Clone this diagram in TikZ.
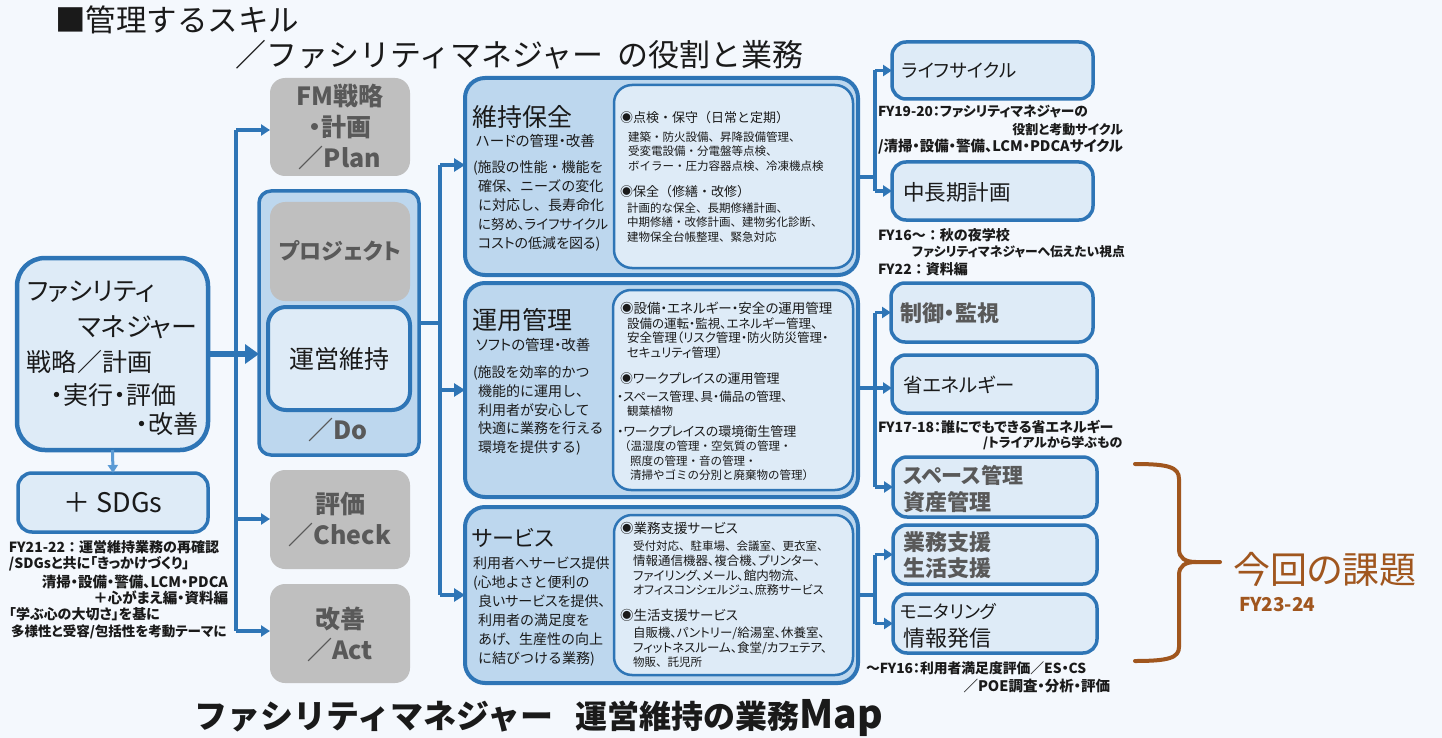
\documentclass[tikz,border=0pt]{standalone}
\usepackage{fontspec}
\setmainfont{Noto Sans CJK JP}[RawFeature={+palt}]
\newfontfamily\fw{Noto Sans CJK JP}
\newfontfamily\pf{Noto Sans CJK JP}[RawFeature={+palt}]
\usetikzlibrary{arrows.meta}
\definecolor{bgc}{HTML}{F4F8FD}
\definecolor{fmblue}{HTML}{2E75B6}
\definecolor{lblue}{HTML}{5B9BD5}
\definecolor{midfill}{HTML}{BDD7EE}
\definecolor{lightfill}{HTML}{DEEBF7}
\definecolor{grayfill}{HTML}{BFBFBF}
\definecolor{graytext}{HTML}{595959}
\definecolor{kadai}{HTML}{A0561E}
\definecolor{ink}{HTML}{1A1A1A}
\newcommand\fsz[2]{\fontsize{#1}{#2}\selectfont}
\newcommand\kl{\fw\fsz{11.5}{14.6}}
\newcommand\kp{\fsz{12.5}{14.6}}
\newcommand\pk{\fw\fsz{14}{18.8}}
\newcommand\pp{\fsz{14}{18.8}}
\tikzset{
  every node/.style={inner sep=0pt, outer sep=0pt, text=ink},
  bluebox/.style={draw=fmblue, fill=lightfill, line width=3.5pt, rounded corners=14pt},
  bigbox/.style={draw=fmblue, fill=midfill, line width=4pt, rounded corners=20pt},
  innerbox/.style={draw=fmblue, fill=lightfill, line width=2.5pt, rounded corners=18pt},
  graybox/.style={fill=grayfill, rounded corners=15pt},
  graylbl/.style={text=graytext, font=\fsz{25}{31}\bfseries, align=center},
  conn/.style={draw=fmblue, line width=4.5pt},
  arrM/.style={conn, -{Triangle[length=11pt,width=13pt]}},
  arrR/.style={draw=fmblue, line width=3.5pt, -{Triangle[length=9pt,width=11pt]}},
  arrBig/.style={draw=fmblue, line width=6.5pt, -{Triangle[length=14pt,width=19pt]}},
  note/.style={font=\fsz{14}{17}\bfseries, anchor=west},
  noteE/.style={font=\fsz{14.5}{17}\bfseries, anchor=east},
  rnote/.style={font=\fsz{13.7}{16}\bfseries, anchor=west},
  rnoteE/.style={font=\fsz{13}{16}\bfseries, anchor=east},
  ttl/.style={font=\fw\fsz{25}{30}, anchor=west},
  sub/.style={font=\fsz{14.5}{18}, anchor=west},
  para/.style={font=\fsz{14}{18.8}, anchor=west, align=left},
  head/.style={font=\fsz{13.5}{16}, anchor=west},
  headfw/.style={font=\fw\fsz{13}{16}, anchor=west},
  item/.style={font=\fsz{12}{14.6}, anchor=west, align=left},
  rlbl/.style={font=\fsz{22}{26}, anchor=west},
  rgray/.style={font=\fsz{22}{26}\bfseries, text=graytext, anchor=west},
  brace/.style={draw=kadai, line width=4pt, line cap=round}
}
\begin{document}
\begin{tikzpicture}[x=1pt, y=-1pt]
\useasboundingbox (0,0) rectangle (1442,738);
\fill[bgc] (0,0) rectangle (1442,738);

% ---------- titles ----------
\node[font=\fw\fsz{30.5}{34}, anchor=west] (t1) at (55,20) {■管理するスキル};
\node[font=\fw\fsz{31}{34}, anchor=west] (t2) at (235,55) {／ファシリティマネジャー\hspace{14pt}の役割と業務};
\node[font=\fw\fsz{33}{38}\bfseries, anchor=west] (t3) at (194,718) {ファシリティマネジャー\hspace{22pt}{\fsz{32}{38}運営維持の業務}{\fsz{39}{40}Map}};

% ---------- left column ----------
\node[bluebox, line width=4.5pt, rounded corners=28pt, minimum width=191pt, minimum height=192pt] (fm) at (112.5,354) {};
\node[font=\fsz{25.5}{30}, anchor=west] (fm1) at (27,292) {ファシリティ};
\node[font=\fsz{26}{30}, anchor=east] (fm2) at (197,327) {マネジャー};
\node[font=\fw\fsz{25}{30}, anchor=west] (fm3) at (27,362) {戦略／計画};
\node[font=\fsz{25}{30}, anchor=east] (fm4) at (176,395) {・実行・評価};
\node[font=\fsz{25}{30}, anchor=east] (fm5) at (198,424) {・改善};

\node[bluebox, line width=3.5pt, rounded corners=14pt, minimum width=190pt, minimum height=59pt] (sdgs) at (113,502.5) {};
\node[font=\fw\fsz{27}{30}] (sdgsl) at (113,503) {＋ SDGs};
\draw[draw=lblue, line width=3pt, -{Triangle[length=8pt,width=10pt]}] (fm.south) -- (sdgs.north);

\node[note, font=\fw\fsz{14}{17}\bfseries] (n1) at (9,547) {FY21-22：運営維持業務の再確認};
\node[note] (n2) at (9,564) {/SDGsと共に「きっかけづくり」};
\node[noteE] (n3) at (228,582) {清掃・設備・警備、LCM・PDCA};
\node[noteE] (n4) at (228,598) {＋心がまえ編・資料編};
\node[note] (n5) at (9,614) {「学ぶ心の大切さ」を基に};
\node[note, font=\fsz{13.5}{17}\bfseries] (n6) at (11,632) {多様性と受容/包括性を考動テーマに};

% ---------- PDCA column ----------
\node[graybox, minimum width=140pt, minimum height=98pt] (plan) at (340,127) {};
\node[graylbl] (planl) at (340,127) {FM戦略\\・計画\\／Plan};
\node[draw=fmblue, fill=midfill, line width=3.5pt, rounded corners=12pt, minimum width=160pt, minimum height=264pt] (doouter) at (339,323) {};
\node[graybox, minimum width=140pt, minimum height=99pt] (proj) at (340,251.5) {};
\node[graylbl, font=\fsz{22}{28}\bfseries] (projl) at (340,251) {プロジェクト};
\node[draw=fmblue, fill=lightfill, line width=4pt, rounded corners=18pt, minimum width=142pt, minimum height=103pt] (unei) at (339,358.5) {};
\node[font=\fsz{25}{30}] (ueil) at (339,359) {運営維持};
\node[graylbl] (dol) at (338,430) {／Do};
\node[graybox, minimum width=140pt, minimum height=99pt] (check) at (340,519.5) {};
\node[graylbl] (checkl) at (340,520) {評価\\／Check};
\node[graybox, minimum width=140pt, minimum height=99pt] (act) at (340,633.5) {};
\node[graylbl] (actl) at (340,634) {改善\\／Act};

\coordinate (lt) at (236,130);
\coordinate (lc) at (236,519);
\coordinate (lb) at (236,631);
\draw[conn, line width=4pt] (lt) -- (lb);
\draw[arrR] (lt) -- (lt -| plan.west);
\draw[arrR] (lc) -- (lc -| check.west);
\draw[arrR] (lb) -- (lb -| act.west);
\draw[arrBig] (fm.east) -- (fm.east -| doouter.west);

% ---------- middle boxes ----------
\node[bigbox, minimum width=393pt, minimum height=197pt] (iji) at (661.5,176.5) {};
\node[innerbox, minimum width=239pt, minimum height=183pt] (ijiin) at (733.5,176.5) {};
\node[bigbox, minimum width=393pt, minimum height=214pt] (unyo) at (661.5,390) {};
\node[innerbox, minimum width=240pt, minimum height=200pt] (unyoin) at (733,390) {};
\node[bigbox, minimum width=393pt, minimum height=176pt] (serv) at (661.5,595) {};
\node[innerbox, minimum width=239pt, minimum height=160pt] (servin) at (733.5,595) {};

\coordinate (mj) at (440,323);
\coordinate (mt) at (440,165);
\coordinate (mm) at (440,390);
\coordinate (mb) at (440,595);
\draw[conn] (doouter.east) -- (mj);
\draw[conn] (mt) -- (mb);
\draw[arrM] (mt) -- (mt -| iji.west);
\draw[arrM] (mm) -- (mm -| unyo.west);
\draw[arrM] (mb) -- (mb -| serv.west);

% 維持保全
\node[ttl] (ijit) at (472,117) {維持保全};
\node[sub] (ijis) at (476,141) {ハードの管理・改善};
\node[para] (ijip) at (473,206) {{\pk (施設の性能・機能を}\\\hspace*{5pt}{\pk 確保、ニーズの変化}\\\hspace*{5pt}{\pk に対応し、長寿命化}\\\hspace*{5pt}{\fsz{13.5}{18.8}に努め、ライフサイクル}\\\hspace*{5pt}{\pp コストの低減を図る)}};
\node[headfw] (ijih1) at (620,118) {◉点検・保守（日常と定期）};
\node[item] (ijii1) at (628,151.5) {{\kl 建築・防火設備、昇降設備管理、}\\{\kl 受変電設備・分電盤等点検、}\\{\kl ボイラー・圧力容器点検、冷凍機点検}};
\node[headfw] (ijih2) at (620,192) {◉保全（修繕・改修）};
\node[item] (ijii2) at (627,222.5) {{\kl 計画的な保全、長期修繕計画、}\\{\kl 中期修繕・改修計画、建物劣化診断、}\\{\kl 建物保全台帳整理、緊急対応}};

% 運用管理
\node[ttl] (unyot) at (472,320) {運用管理};
\node[sub] (unyos) at (476,345) {ソフトの管理・改善};
\node[para] (unyop) at (473,410.5) {{\pk (施設を効率的かつ}\\\hspace*{5pt}{\pk 機能的に運用し、}\\\hspace*{5pt}{\pk 利用者が安心して}\\\hspace*{5pt}{\pk 快適に業務を行える}\\\hspace*{5pt}{\pk 環境を提供する)}};
\node[head] (unyoh1) at (620,308) {◉設備・エネルギー・安全の運用管理};
\node[item] (unyoi1) at (627,338) {{\kp 設備の運転・監視、エネルギー管理、}\\{\kp 安全管理（リスク管理・防火防災管理・}\\{\kp セキュリティ管理）}};
\node[head, font=\fsz{13}{16}] (unyoh2) at (620,379) {◉ワークプレイスの運用管理};
\node[item] (unyoi2) at (617,397) {\kp ・スペース管理、具・備品の管理、};
\node[item] (unyoi3) at (627,411) {\kl 観葉植物};
\node[item] (unyoi4) at (617,432) {\fsz{13}{15}・ワークプレイスの環境衛生管理};
\node[item] (unyoi5) at (619,446) {\kl （温湿度の管理・空気質の管理・};
\node[item] (unyoi6) at (630,461.5) {\kl 照度の管理・音の管理・};
\node[item] (unyoi7) at (630,475.5) {\kl 清掃やゴミの分別と廃棄物の管理）};

% サービス
\node[ttl, font=\fsz{22}{28}] (servt) at (472,538) {サービス};
\node[sub, font=\fsz{14}{18}] (servs) at (473,563) {利用者へサービス提供};
\node[para] (servp) at (473,621) {{\pk (心地よさと便利の}\\\hspace*{5pt}{\pp 良いサービスを提供、}\\\hspace*{5pt}{\pk 利用者の満足度を}\\\hspace*{5pt}{\pk あげ、生産性の向上}\\\hspace*{5pt}{\pk に結びつける業務)}};
\node[head] (servh1) at (620,528) {◉業務支援サービス};
\node[item] (servi1) at (633,568.5) {{\kl 受付対応、駐車場、会議室、更衣室、}\\{\kp 情報通信機器、複合機、プリンター、}\\{\kp ファイリング、メール、館内物流、}\\{\fsz{12}{14.6}オフィスコンシェルジュ、庶務サービス}};
\node[head] (servh2) at (620,615) {◉生活支援サービス};
\node[item] (servi2) at (633,647.5) {{\kp 自販機、パントリー/給湯室、休養室、}\\{\kp フィットネスルーム、食堂/カフェテア、}\\{\kl 物販、託児所}};

% ---------- right column ----------
\node[bluebox, minimum width=201pt, minimum height=57pt] (life) at (992.5,70.5) {};
\node[rlbl, font=\fsz{18.5}{24}] (lifel) at (902,70) {ライフサイクル};
\node[bluebox, minimum width=201pt, minimum height=58pt] (chouki) at (992.5,191) {};
\node[rlbl, font=\fsz{21.5}{26}] (choukil) at (903,192) {中長期計画};
\node[bluebox, minimum width=202pt, minimum height=59pt] (seigyo) at (992,312.5) {};
\node[rgray] (seigyol) at (900,313) {制御・監視};
\node[bluebox, minimum width=205pt, minimum height=58pt] (shoene) at (994.5,384) {};
\node[rlbl, font=\fsz{19.4}{24}] (shoenel) at (903,385) {省エネルギー};
\node[bluebox, minimum width=204pt, minimum height=60pt] (space) at (995,487) {};
\node[rgray, font=\fsz{21}{26}\bfseries] (spacel1) at (903,475) {スペース管理};
\node[rgray] (spacel2) at (903,502) {資産管理};
\node[bluebox, minimum width=204pt, minimum height=59pt] (gyomu) at (995,554.5) {};
\node[rgray] (gyomul1) at (903,542) {業務支援};
\node[rgray] (gyomul2) at (903,568) {生活支援};
\node[bluebox, minimum width=204pt, minimum height=59pt] (moni) at (995,623.5) {};
\node[rlbl, font=\fsz{18}{24}] (monil1) at (900,612) {モニタリング};
\node[rlbl] (monil2) at (903,638) {情報発信};

% right connectors
\coordinate (r1t) at (875,70.5);
\coordinate (r1j) at (875,177);
\coordinate (r1b) at (875,191);
\draw[conn, line width=3.5pt] (r1j -| iji.east) -- (r1j);
\draw[conn, line width=3.5pt] (r1t) -- (r1b);
\draw[arrR] (r1t) -- (life.west);
\draw[arrR] (r1b) -- (chouki.west);

\coordinate (r2t) at (875,312.5);
\coordinate (r2m) at (875,388);
\coordinate (r2b) at (875,487);
\draw[conn, line width=3.5pt] (r2m -| unyo.east) -- (r2m);
\draw[conn, line width=3.5pt] (r2t) -- (r2b);
\draw[arrR] (r2t) -- (seigyo.west);
\draw[arrR] (r2m) -- (r2m -| shoene.west);
\draw[arrR] (r2b) -- (space.west);

\coordinate (r3t) at (875,554.5);
\coordinate (r3j) at (875,595);
\coordinate (r3b) at (875,623.5);
\draw[conn, line width=3.5pt] (serv.east) -- (r3j);
\draw[conn, line width=3.5pt] (r3t) -- (r3b);
\draw[arrR] (r3t) -- (gyomu.west);
\draw[arrR] (r3b) -- (moni.west);

% right notes
\node[rnote] (rn1) at (878,112) {FY19-20：ファシリティマネジャーの};
\node[rnoteE] (rn2) at (1123,130) {役割と考動サイクル};
\node[rnote, font=\fsz{14.5}{16}\bfseries] (rn3) at (878,147) {/清掃・設備・警備、LCM・PDCAサイクル};
\node[rnote, font=\fw\fsz{14}{16}\bfseries] (rn4) at (878,235) {FY16～：秋の夜学校};
\node[rnote, font=\fsz{12.8}{16}\bfseries] (rn5) at (912,252) {ファシリティマネジャーへ伝えたい視点};
\node[rnote, font=\fw\fsz{14}{16}\bfseries] (rn6) at (878,269) {FY22：資料編};
\node[rnote, font=\fsz{14}{16}\bfseries] (rn7) at (878,427) {FY17-18：誰にでもできる省エネルギー};
\node[rnote, font=\fsz{13}{16}\bfseries] (rn8) at (983,443) {/トライアルから学ぶもの};
\node[rnote, font=\fsz{13.8}{16}\bfseries] (rn9) at (866,668) {～FY16：利用者満足度評価／ES・CS};
\node[rnoteE, font=\fsz{14.5}{16}\bfseries] (rn10) at (1110,686) {／POE調査・分析・評価};

% brace and 今回の課題
\coordinate (bt) at (1135,464);
\coordinate (bb) at (1135,661);
\coordinate (btip) at (1220,562);
\draw[brace] (bt) .. controls (1168,464) and (1179,467) .. (1179,479) -- (1179,549) .. controls (1179,558) and (1185,562) .. (1196,562) -- (btip);
\draw[brace] (1196,562) .. controls (1185,562) and (1179,566) .. (1179,575) -- (1179,647) .. controls (1179,658) and (1168,661) .. (bb);
\node[font=\fsz{37}{40}, text=kadai, anchor=west] (kadail) at (1233,569) {今回の課題};
\node[font=\fsz{19}{22}\bfseries, text=kadai, anchor=west] (kadaify) at (1239,605) {FY23-24};
\end{tikzpicture}
\end{document}
